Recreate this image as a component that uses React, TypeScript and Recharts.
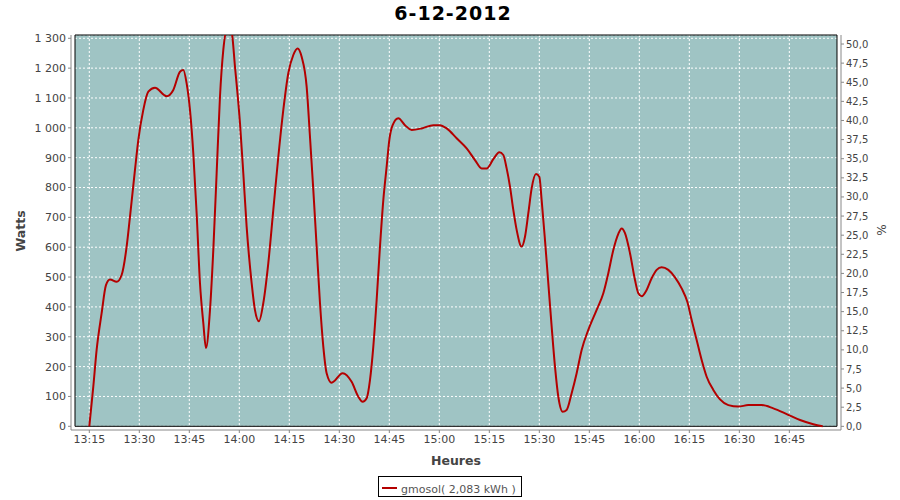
import { LineChart, Line, XAxis, YAxis, CartesianGrid, ReferenceArea } from "recharts";

// minutes after 13:00
const minutes = [
  15.0, 16.2, 17.2, 18.7, 20.0, 21.2, 23.2, 24.7, 26.2, 27.2, 28.7, 29.7, 31.2, 32.7, 34.7, 38.2,
  40.2, 42.2, 43.2, 44.2, 45.2, 46.2, 47.2, 48.2, 49.2, 50.0, 51.2, 52.2, 53.2, 54.2, 55.2, 56.5,
  57.7, 58.7, 60.2, 61.2, 62.2, 63.7, 64.7, 65.9, 67.2, 68.7, 70.2, 71.7, 73.2, 74.7, 76.2, 77.5,
  78.7, 80.2, 81.2, 82.2, 83.2, 84.2, 85.2, 86.2, 87.7, 91.0, 93.7, 95.7, 97.0, 98.2, 99.2, 100.2,
  101.2, 102.2, 103.2, 104.2, 105.0, 106.0, 107.7, 109.7, 111.7, 114.7, 118.2, 120.2, 122.2, 125.2,
  128.2, 130.7, 132.7, 134.2, 136.2, 138.0, 139.2, 140.2, 141.2, 142.2, 143.2, 144.7, 145.7, 146.7,
  147.7, 149.0, 150.0, 150.7, 151.7, 152.7, 153.7, 154.7, 155.7, 157.0, 158.2, 159.7, 161.2, 162.7,
  164.7, 167.2, 169.2, 170.7, 172.2, 173.7, 174.7, 175.7, 177.2, 178.7, 179.7, 180.7, 182.2, 183.7,
  185.2, 186.7, 188.7, 190.7, 192.7, 194.4, 195.7, 197.2, 198.7, 200.2, 202.2, 204.2, 206.7, 209.7,
  212.7, 216.7, 220.2, 224.2, 228.2, 232.2, 235.0,
];

const watts = [
  0, 133, 256, 379, 473, 492, 484, 507, 602, 702, 859, 959, 1060, 1121, 1134, 1106,
  1127, 1188, 1194, 1149, 1060, 915, 714, 480, 346, 262, 389, 591, 848, 1104, 1261, 1335,
  1320, 1205, 1016, 848, 669, 480, 389, 352, 413, 547, 725, 903, 1060, 1183, 1244, 1266,
  1238, 1138, 970, 792, 602, 413, 267, 178, 146, 178, 149, 99, 82, 94, 155, 267,
  423, 602, 758, 870, 959, 1009, 1032, 1009, 993, 998, 1009, 1009, 998, 965,
  931, 892, 864, 864, 895, 918, 909, 864, 803, 725, 658, 602, 635, 714,
  797, 845, 836, 758, 624, 479, 334, 200, 99, 49, 55, 111, 178, 256,
  323, 390, 446, 513, 591, 645, 663, 647, 580, 490, 446, 436, 457, 496,
  524, 533, 524, 499, 462, 417, 356, 289, 222, 166, 122, 90, 71, 66,
  71, 71, 60, 41, 21, 7, 0,
];

const timeTicks = ["13:15", "13:30", "13:45", "14:00", "14:15", "14:30", "14:45", "15:00", "15:15", "15:30", "15:45", "16:00", "16:15", "16:30", "16:45"];
const wattTicks = [0, 100, 200, 300, 400, 500, 600, 700, 800, 900, 1000, 1100, 1200, 1300];
const pctTicks = [0, 2.5, 5, 7.5, 10, 12.5, 15, 17.5, 20, 22.5, 25, 27.5, 30, 32.5, 35, 37.5, 40, 42.5, 45, 47.5, 50];

const toMin = (s: string) => {
  const [h, m] = s.split(":").map(Number);
  return h * 60 + m;
};
const fmtTime = (v: number) => `${Math.floor(v / 60)}:${String(Math.round(v % 60)).padStart(2, "0")}`;
const fmtWatt = (v: number) => (v >= 1000 ? `${Math.floor(v / 1000)} ${String(v % 1000).padStart(3, "0")}` : String(v));
const fmtPct = (v: number) => v.toFixed(1).replace(".", ",");

const data = minutes.map((m, i) => ({ t: 780 + m, w: watts[i] }));

const FONT = "'DejaVu Sans', sans-serif";
const RED = "#b40000";

export default function App() {
  return (
    <div style={{ position: "absolute", left: 0, top: 0, width: 900, height: 500, background: "#fff", fontFamily: FONT }}>
      <LineChart width={900} height={500} data={data} margin={{ top: 35, right: 0, bottom: 0, left: 0 }}>
        <XAxis
          dataKey="t"
          type="number"
          domain={[789.51, 1020.5]}
          allowDataOverflow
          ticks={timeTicks.map(toMin)}
          tickFormatter={fmtTime}
          height={70}
          tickSize={3}
          tick={{ fontSize: 11, fill: "#444", fontFamily: FONT }}
          stroke="#888"
        />
        <YAxis
          yAxisId="w"
          width={71}
          domain={[-12.4, 1311]}
          allowDataOverflow
          ticks={wattTicks}
          tickFormatter={fmtWatt}
          tickSize={3}
          tick={{ fontSize: 11, fill: "#444", fontFamily: FONT }}
          stroke="#888"
        />
        <YAxis
          yAxisId="p"
          orientation="right"
          width={59}
          domain={[-0.48, 51.18]}
          allowDataOverflow
          ticks={pctTicks}
          tickFormatter={fmtPct}
          tickSize={3}
          tick={{ fontSize: 10, fill: "#444", fontFamily: FONT }}
          stroke="#888"
        />
        <ReferenceArea
          yAxisId="w"
          x1={790.71}
          x2={1019.3}
          y1={0}
          y2={1311}
          fill="#9fc4c4"
          fillOpacity={1}
          stroke="none"
          zIndex={-200}
        />
        <CartesianGrid yAxisId="w" stroke="#fff" strokeDasharray="2 2" />
        <ReferenceArea
          yAxisId="w"
          x1={790.71}
          x2={1019.3}
          y1={0}
          y2={1311}
          fill="none"
          stroke="#000"
          strokeWidth={1}
        />
        <Line
          yAxisId="w"
          type="monotone"
          dataKey="w"
          stroke={RED}
          strokeWidth={2}
          dot={false}
          isAnimationActive={false}
        />
      </LineChart>
      <svg width={900} height={500} style={{ position: "absolute", left: 0, top: 0, pointerEvents: "none" }} fontFamily={FONT}>
        <text x={453} y={19.5} textAnchor="middle" fontSize={19} fontWeight="bold" letterSpacing={1} fill="#000">
          6-12-2012
        </text>
        <text x={25} y={231} textAnchor="middle" fontSize={12.5} fontWeight="bold" fill="#444" transform="rotate(-90 25 231)">
          Watts
        </text>
        <text x={886} y={230} textAnchor="middle" fontSize={12} fill="#444" transform="rotate(-90 886 230)">
          %
        </text>
        <text x={456} y={465} textAnchor="middle" fontSize={12.5} fontWeight="bold" fill="#444">
          Heures
        </text>
        <rect x={378.5} y={476.5} width={143} height={20} fill="#fff" stroke="#000" />
        <line x1={382} x2={397} y1={488} y2={488} stroke={RED} strokeWidth={2} />
        <text x={401} y={492.5} fontSize={11} fill="#555">
          gmosol( 2,083 kWh )
        </text>
      </svg>
    </div>
  );
}
